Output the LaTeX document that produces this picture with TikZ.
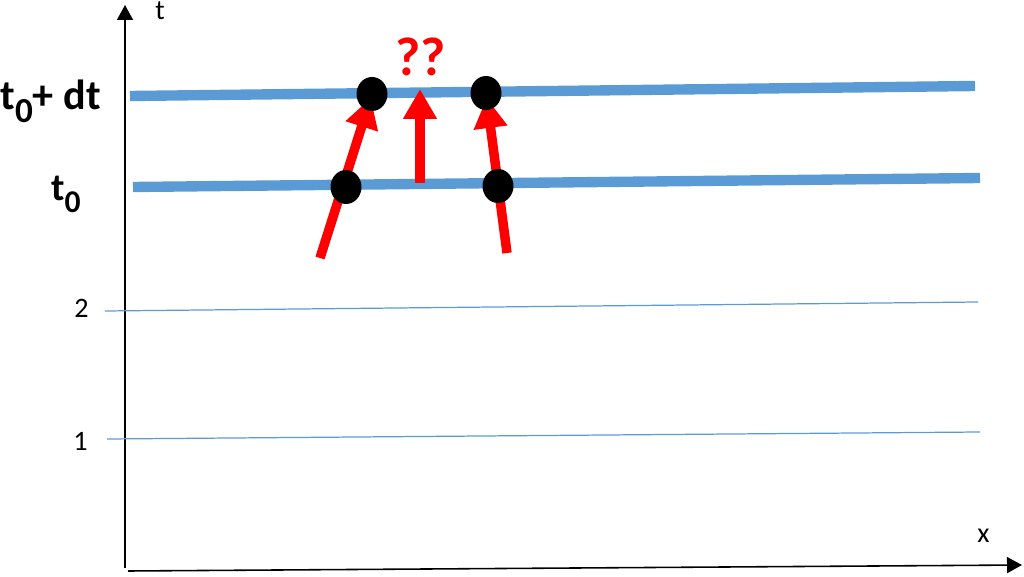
\documentclass[tikz,border=0pt]{standalone}
\usepackage{fontspec}
\setmainfont{Carlito}
\usetikzlibrary{positioning, arrows.meta, shapes.geometric}
\definecolor{lineblue}{HTML}{5B9BD5}
\newcommand{\lowzero}[1]{\raisebox{-0.3em}{\fontsize{#1}{#1}\selectfont 0}}

\begin{document}
\begin{tikzpicture}[
		x=0.02cm, y=-0.02cm,
		axis/.style={line width=0.9pt, -{Triangle[length=0.3cm, width=0.32cm]}},
		level/.style={draw=lineblue, line width=5.9pt},
		tick/.style={draw=lineblue, line width=0.7pt},
		particle/.style={ellipse, fill=black, minimum width=0.62cm, minimum height=0.68cm, inner sep=0pt},
		worldline/.style={draw=red, line width=5.4pt, -{Triangle[length=0.6cm, width=0.64cm]}},
		label/.style={inner sep=0pt, font=\fontsize{16}{16}\selectfont},
		biglabel/.style={inner sep=0pt, font=\bfseries\fontsize{24}{24}\selectfont}
		]
		\useasboundingbox (0,0) rectangle (1024,577);
		
		% ==========================================
		% AXES
		% ==========================================
		\coordinate (Origin) at (125,568);
		\coordinate (TTop) at (125,5);
		\coordinate (XStart) at (128,571);
		\coordinate (XEnd) at (1022,565);
		\draw[axis] (Origin) -- (TTop);
		\draw[axis] (XStart) -- (XEnd);
		\node[label, anchor=base west] (TLabel) at (155,20) {t};
		\node[label, anchor=base west] (XLabel) at (977,542) {x};
		
		% ==========================================
		% TIME LEVELS
		% ==========================================
		\draw[tick] (107,439) -- (980,432);
		\draw[tick] (105,311) -- (978,302);
		\node[label, anchor=base east] (One) at (88,450) {1};
		\node[label, anchor=base east] (Two) at (89,318) {2};
		
		\draw[level] (133,187) -- (980,178);
		\draw[level] (130,96) -- (975,86);
		\node[biglabel, anchor=base east, font=\bfseries\fontsize{22}{22}\selectfont] (TZero) at (81,201) {t\lowzero{18}};
		\node[biglabel, anchor=base east] (TNext) at (101,110) {t\lowzero{20}+ dt};
		
		% ==========================================
		% PARTICLES AND WORLDLINES
		% ==========================================
		\coordinate (LeftOld) at (346,187);
		\coordinate (LeftNew) at (372,94);
		\coordinate (RightNew) at (486,93);
		\coordinate (RightOld) at (498,186);
		
		\coordinate (LeftTail) at (320,258);
		\coordinate (RightTail) at (507,253);
		\coordinate (GapTail) at (420,183);
		\coordinate (GapTip) at (420,89);
		
		\draw[worldline, shorten >=0.08cm] (LeftTail) -- (LeftNew);
		\draw[worldline, shorten >=0.1cm] (RightTail) -- (RightNew);
		\draw[worldline] (GapTail) -- (GapTip);
		
		% dots go over the arrows
		\node[particle] (DotLeftOld) at (LeftOld) {};
		\node[particle] (DotLeftNew) at (LeftNew) {};
		\node[particle] (DotRightNew) at (RightNew) {};
		\node[particle] (DotRightOld) at (RightOld) {};
		
		\node[inner sep=0pt, anchor=base, text=red, font=\bfseries\fontsize{31}{31}\selectfont] (Question) at (421,76) {??};
		
	\end{tikzpicture}
\end{document}
